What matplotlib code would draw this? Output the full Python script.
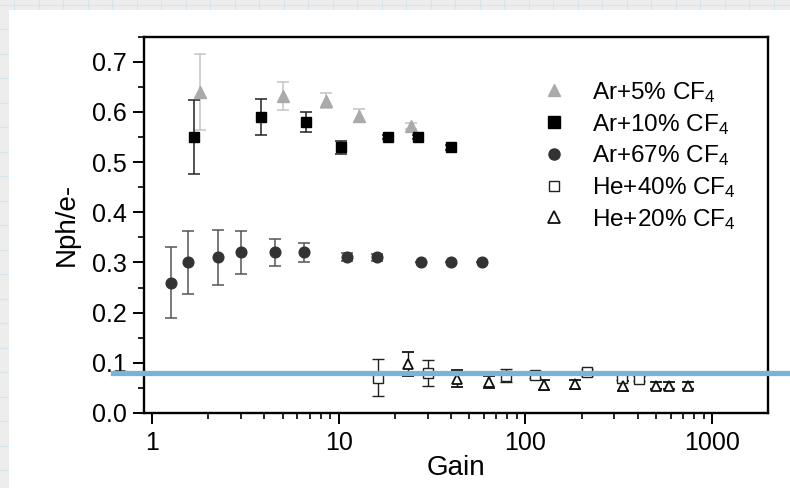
import numpy as np
import matplotlib.pyplot as plt
from matplotlib.lines import Line2D
from matplotlib.patches import Rectangle
from matplotlib.ticker import FormatStrFormatter, FuncFormatter, MultipleLocator, LogLocator

plt.rcParams['font.family'] = ['Liberation Sans', 'DejaVu Sans']
plt.rcParams['mathtext.fontset'] = 'custom'
plt.rcParams['mathtext.rm'] = 'Liberation Sans'
plt.rcParams['mathtext.default'] = 'regular'

# Ar+5% CF4 (grey triangles)
ar5_gain = [1.81, 5.0, 8.6, 12.8, 24.4]
ar5_nph = [0.64, 0.632, 0.622, 0.592, 0.572]
ar5_err = [0.075, 0.028, 0.015, 0.013, 0.005]

# Ar+10% CF4 (black squares)
ar10_gain = [1.68, 3.84, 6.68, 10.25, 18.4, 26.7, 39.8]
ar10_nph = [0.55, 0.59, 0.58, 0.53, 0.55, 0.55, 0.53]
ar10_err = [0.074, 0.036, 0.02, 0.013, 0.004, 0.004, 0.005]

# Ar+67% CF4 (dark circles)
ar67_gain = [1.26, 1.55, 2.26, 3.0, 4.58, 6.54, 11.1, 16.0, 27.7, 39.8, 58.8]
ar67_nph = [0.26, 0.30, 0.31, 0.32, 0.32, 0.32, 0.31, 0.31, 0.30, 0.30, 0.30]
ar67_err = [0.071, 0.063, 0.054, 0.043, 0.027, 0.019, 0.008, 0.007, 0.0, 0.0, 0.0]

# He+40% CF4 (open squares)
he40_gain = [16.3, 30.0, 79.0, 113, 215, 329, 404]
he40_nph = [0.07, 0.08, 0.074, 0.076, 0.081, 0.07, 0.068]
he40_err = [0.037, 0.026, 0.013, 0.007, 0.007, 0.005, 0.005]

# He+20% CF4 (open triangles)
he20_gain = [23.4, 42.9, 63.6, 126, 185, 332, 501, 590, 743]
he20_nph = [0.097, 0.068, 0.062, 0.056, 0.057, 0.054, 0.054, 0.054, 0.054]
he20_err = [0.024, 0.017, 0.012, 0.01, 0.009, 0.01, 0.007, 0.007, 0.007]

labels = ['Ar+5% CF$_4$', 'Ar+10% CF$_4$', 'Ar+67% CF$_4$',
          'He+40% CF$_4$', 'He+20% CF$_4$']

W, H = 790, 488
fig = plt.figure(figsize=(W / 100, H / 100), dpi=100)
fig.patch.set_facecolor('#ededed')

# graph-paper backdrop
for xv in np.arange(14, W, 24.5):
    fig.add_artist(Line2D([xv / W, xv / W], [0, 1], transform=fig.transFigure,
                          color='#d6e4ee', lw=0.8, zorder=-3))
for yv in np.arange(18, H, 24.5):
    fig.add_artist(Line2D([0, 1], [yv / H, yv / H], transform=fig.transFigure,
                          color='#d6e4ee', lw=0.8, zorder=-3))
fig.add_artist(Rectangle((9 / W, 0), 1, (H - 10) / H, transform=fig.transFigure,
                         facecolor='white', edgecolor='none', zorder=-2))

ax = fig.add_axes([144 / W, (H - 413) / H, (767.7 - 144) / W, (413 - 36.7) / H])
ax.set_facecolor('white')

ax.errorbar(ar5_gain, ar5_nph, yerr=ar5_err, fmt='^', ms=8.5, color='#aaaaaa',
            ecolor='#c4c4c4', elinewidth=1.1, capsize=4, capthick=1.1)
ax.errorbar(ar10_gain, ar10_nph, yerr=ar10_err, fmt='s', ms=7.7, color='black',
            ecolor='#222222', elinewidth=1.1, capsize=4, capthick=1.1)
ax.errorbar(ar67_gain, ar67_nph, yerr=ar67_err, fmt='o', ms=7.7, color='#333333',
            ecolor='#555555', elinewidth=1.1, capsize=4, capthick=1.1)
ax.errorbar(he40_gain, he40_nph, yerr=he40_err, fmt='s', ms=6.5, mfc='white',
            mec='#222222', mew=1.0, ecolor='#222222', elinewidth=1.0,
            capsize=4, capthick=1.0)
ax.errorbar(he20_gain, he20_nph, yerr=he20_err, fmt='^', ms=7.5, mfc='white',
            mec='#111111', mew=1.3, ecolor='#111111', elinewidth=1.0,
            capsize=4, capthick=1.0)

ax.axhline(0.08, xmin=-0.05, xmax=1.04, clip_on=False, color='#7ab3d7',
           lw=3.8, zorder=10)

ax.set_xscale('log')
ax.set_xlim(0.906, 1985)
ax.set_ylim(0, 0.75)
ax.xaxis.set_major_locator(LogLocator(base=10))
ax.xaxis.set_minor_locator(LogLocator(base=10, subs=np.arange(2, 10)))
ax.xaxis.set_major_formatter(FuncFormatter(lambda v, p: '%g' % v))
ax.yaxis.set_major_locator(MultipleLocator(0.1))
ax.yaxis.set_minor_locator(MultipleLocator(0.05))
ax.yaxis.set_major_formatter(FormatStrFormatter('%.1f'))

for s in ax.spines.values():
    s.set_linewidth(1.7)
ax.tick_params(which='major', direction='out', length=7.7, width=1.4,
               labelsize=18, pad=4.5)
ax.tick_params(which='minor', direction='out', length=4.5, width=1.2)
ax.tick_params(axis='x', which='major', pad=5)

ax.set_xlabel('Gain', fontsize=20, labelpad=0)
ax.set_ylabel('Nph/e-', fontsize=20, labelpad=9)

handles = [
    Line2D([], [], ls='none', marker='^', ms=9, color='#aaaaaa'),
    Line2D([], [], ls='none', marker='s', ms=8, color='black'),
    Line2D([], [], ls='none', marker='o', ms=8, color='#333333'),
    Line2D([], [], ls='none', marker='s', ms=7, mfc='white', mec='#222222', mew=1.0),
    Line2D([], [], ls='none', marker='^', ms=8, mfc='white', mec='#111111', mew=1.3),
]
ax.legend(handles, labels, loc='upper left', bbox_to_anchor=(542 / W, (H - 80) / H),
          bbox_transform=fig.transFigure, frameon=False, fontsize=17.5,
          handlelength=1.0, handletextpad=1.05, borderpad=0, borderaxespad=0,
          labelspacing=0.28)

fig.savefig('out.png', dpi=100, facecolor=fig.get_facecolor())
